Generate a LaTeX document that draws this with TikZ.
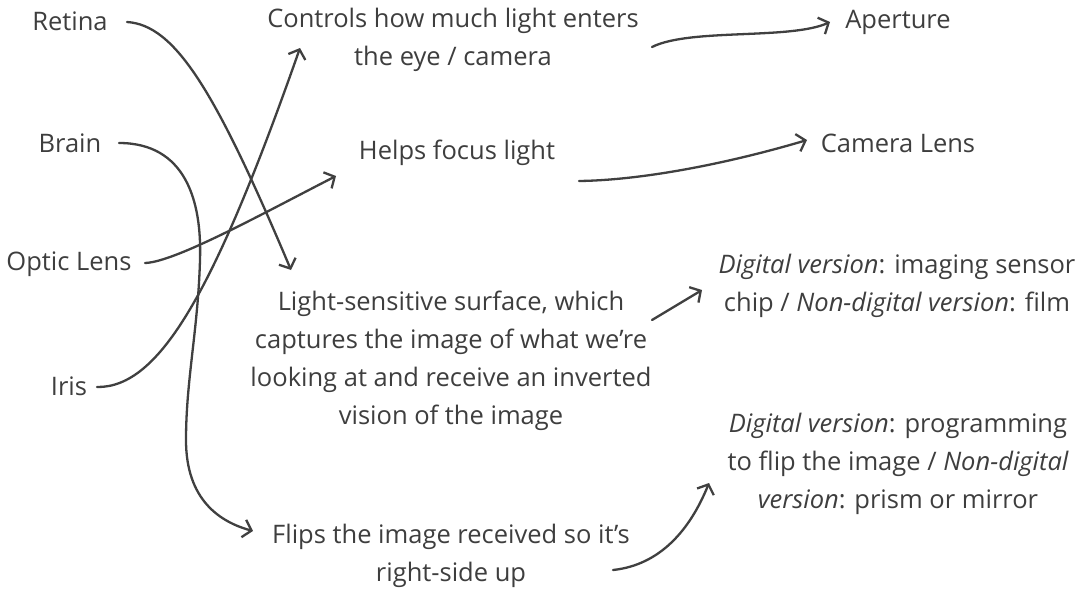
\documentclass[tikz,border=0pt]{standalone}
\usepackage{fontspec}
\setmainfont{Open Sans}
\usetikzlibrary{arrows.meta}
\definecolor{ink}{HTML}{3E3E3E}
\definecolor{wire}{HTML}{404040}
\begin{document}
\begin{tikzpicture}[x=1pt,y=-1pt,
  lbl/.style={font=\fontsize{25.5}{38}\selectfont, text=ink, inner sep=0pt},
  blk/.style={lbl, align=center},
  link/.style={draw=wire, line width=2.3pt, line cap=round, line join=round,
    -{Straight Barb[length=8pt,width=18pt]}}]
\useasboundingbox (0,0) rectangle (1087,592);
\fill[white] (0,0) rectangle (1087,592);

% eye parts (left column)
\node[lbl] (retina) at (70,21) {Retina};
\node[lbl] (brain) at (70,143) {Brain};
\node[lbl] (optic) at (69,264) {Optic Lens};
\node[lbl] (iris) at (69,386) {Iris};

% functions (middle column)
\node[blk] (controls) at (453,40) {Controls how much light enters\\the eye / camera};
\node[blk] (helps) at (457,153) {Helps focus light};
\node[blk] (light) at (451,361) {Light-sensitive surface, which\\captures the image of what we’re\\looking at and receive an inverted\\vision of the image};
\node[blk] (flips) at (451,556) {Flips the image received so it’s\\right-side up};

% camera parts (right column)
\node[lbl] (aperture) at (898,22) {Aperture};
\node[lbl] (camlens) at (898,143) {Camera Lens};
\node[blk] (dig1) at (897,286) {{\itshape Digital version}: imaging sensor\\chip / {\itshape Non-digital version}: film};
\node[blk] (dig2) at (898,464) {{\itshape Digital version}: programming\\to flip the image / {\itshape Non-digital}\\{\itshape version}: prism or mirror};

% eye part -> function
\draw[link] ([shift={(57,1)}]retina.center) .. controls +(48,3) and +(-76,-180) .. ([shift={(-160,-91)}]light.center);
\draw[link] ([shift={(49,0)}]brain.center) .. controls +(66,0) and (202,200) .. (200,260)
  .. controls (198,330) and (186,380) .. (186,440)
  .. controls (186,500) and (220,522) .. ([shift={(-198,-25)}]flips.center);
\draw[link] ([shift={(76,-1)}]optic.center) .. controls +(30,-1) and +(-76,39) .. ([shift={(-121,23)}]helps.center);
\draw[link] ([shift={(28,1)}]iris.center) .. controls +(63,1) and +(-85,242) .. ([shift={(-153,8)}]controls.center);

% function -> camera part
\draw[link] ([shift={(199,7)}]controls.center) .. controls +(38,-19) and +(-40,18) .. ([shift={(-68,0)}]aperture.center);
\draw[link] ([shift={(122,28)}]helps.center) .. controls +(71,-1) and +(-67,20) .. ([shift={(-91,-3)}]camlens.center);
\draw[link] ([shift={(201,-41)}]light.center) -- ([shift={(-195,4)}]dig1.center);
\draw[link] ([shift={(162,14)}]flips.center) .. controls +(47,-5) and +(-19,47) .. ([shift={(-189,19)}]dig2.center);
\end{tikzpicture}
\end{document}
